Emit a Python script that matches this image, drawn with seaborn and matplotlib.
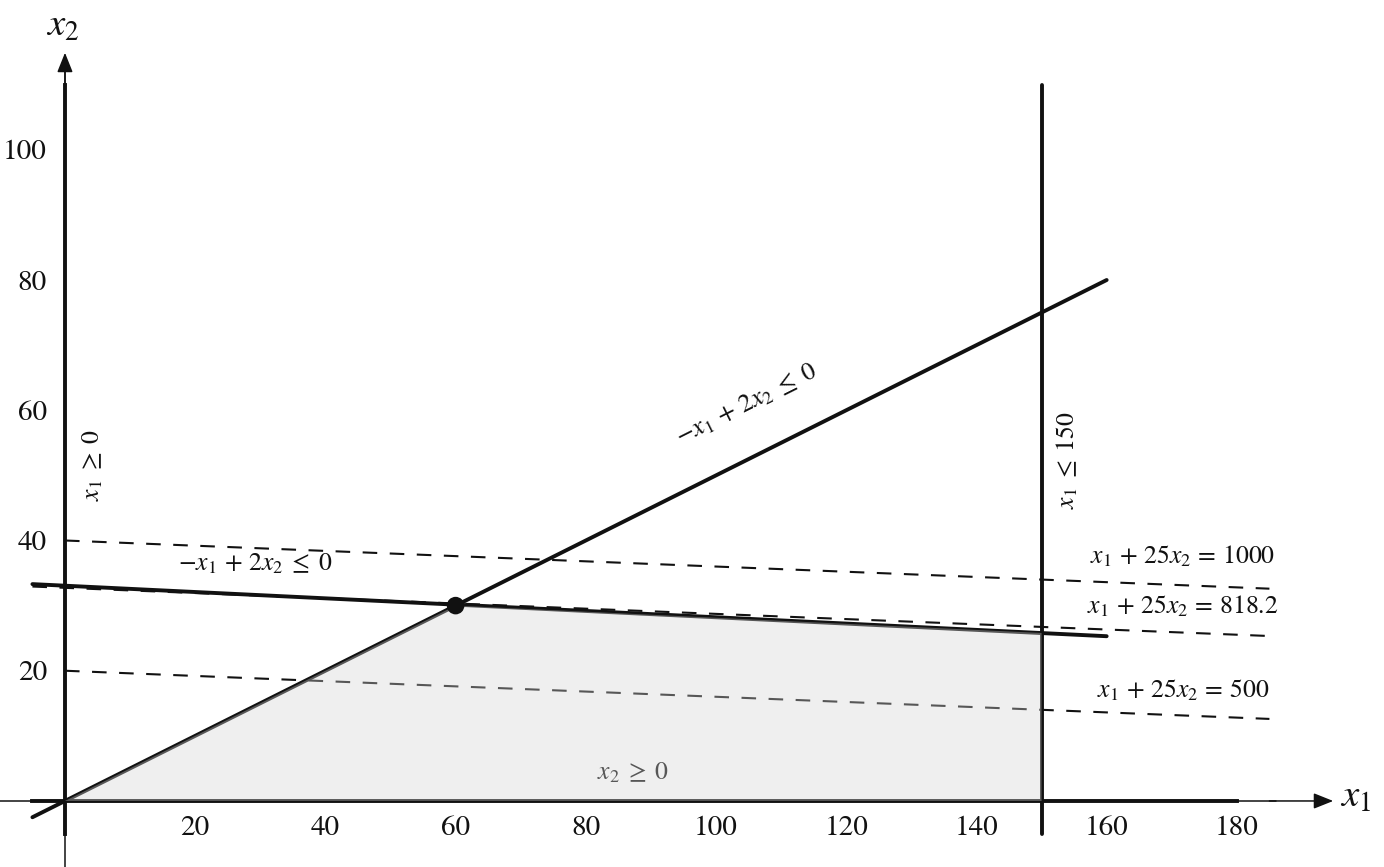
import numpy as np
import pandas as pd
import seaborn as sns
import matplotlib.pyplot as plt
from matplotlib.patches import Polygon

# ---- data ----
x_ticks = [20, 40, 60, 80, 100, 120, 140, 160, 180]
y_ticks = [20, 40, 60, 80, 100]

ratio_x1 = [-5, 160]          # -x1 + 2x2 = 0
ratio_x2 = [-2.5, 80]
cap_x1 = [150, 150]           # x1 = 150
cap_x2 = [-5, 110]
bind_x1 = [-5, 160]           # binding constraint line
bind_x2 = [33.3, 25.3]

obj1000_x1 = [0, 185]
obj1000_x2 = [40, 32.6]
obj818_x1 = [-5, 185]
obj818_x2 = [32.93, 25.33]
obj500_x1 = [0, 185]
obj500_x2 = [20, 12.6]

feas_x1 = [0, 60, 150, 150]
feas_x2 = [0, 30, 25.8, 0]
opt_x1 = [60]
opt_x2 = [30]

sns.set_theme(style="white")
plt.rcParams['font.family'] = ['STIXGeneral', 'Liberation Serif', 'DejaVu Serif']
plt.rcParams['mathtext.fontset'] = 'stix'

fig = plt.figure(figsize=(13.84, 8.67), dpi=100)
ax = fig.add_axes([0, 0, 1, 1])
ax.set_xlim(-9.98, 202.6)
ax.set_ylim(-10.14, 123.0)
ax.set_facecolor('white')

ink = '#111111'
dash = (0, (7, 6))

# axes (thick spines + thin extensions with arrows)
for s in ['top', 'right']:
    ax.spines[s].set_visible(False)
ax.spines['left'].set_position(('data', 0))
ax.spines['bottom'].set_position(('data', 0))
ax.spines['left'].set_bounds(-5, 110)
ax.spines['bottom'].set_bounds(-5, 180)
for s in ['left', 'bottom']:
    ax.spines[s].set_linewidth(2.8)
    ax.spines[s].set_color(ink)
ax.set_xticks(x_ticks)
ax.set_yticks(y_ticks)
ax.tick_params(axis='both', direction='inout', length=8, width=1.4, colors=ink,
               labelsize=21, labelcolor=ink)
ax.tick_params(axis='x', pad=7)
ax.tick_params(axis='y', pad=9)

ax.plot([-10, 186], [0, 0], color=ink, lw=1.1, zorder=2)
ax.plot([0, 0], [-10.2, 113], color=ink, lw=1.1, zorder=2)
arrow = dict(arrowstyle='-|>,head_length=0.5,head_width=0.2', mutation_scale=24,
             color=ink, lw=1.1, shrinkA=0, shrinkB=0)
ax.annotate('', xy=(194.8, 0), xytext=(185, 0), arrowprops=arrow)
ax.annotate('', xy=(0, 114.9), xytext=(0, 108), arrowprops=arrow)
ax.text(198.2, 0.6, r'$x_1$', fontsize=28, ha='center', va='center', color=ink)
ax.text(-0.3, 118.9, r'$x_2$', fontsize=28, ha='center', va='center', color=ink)

# lines
sns.lineplot(x=ratio_x1, y=ratio_x2, ax=ax, color=ink, lw=2.8, sort=False, estimator=None)
sns.lineplot(x=cap_x1, y=cap_x2, ax=ax, color=ink, lw=2.8, sort=False, estimator=None)
sns.lineplot(x=bind_x1, y=bind_x2, ax=ax, color=ink, lw=2.8, sort=False, estimator=None)
for xs, ys in [(obj1000_x1, obj1000_x2), (obj818_x1, obj818_x2), (obj500_x1, obj500_x2)]:
    sns.lineplot(x=xs, y=ys, ax=ax, color=ink, lw=1.5, linestyle=dash,
                 sort=False, estimator=None)

# feasible region (semi-transparent, on top of lines)
poly = Polygon(np.column_stack([feas_x1, feas_x2]), closed=True,
               facecolor=(0.83, 0.83, 0.83), alpha=0.36, edgecolor='none', zorder=3)
ax.add_patch(poly)

sns.scatterplot(x=opt_x1, y=opt_x2, ax=ax, s=160, color=ink, edgecolor='none', zorder=5)

# labels
fs = 18.5
ax.text(4.3, 51.6, r'$x_1 \;\geq\; 0$', rotation=90, fontsize=fs, ha='center', va='center', color=ink)
ax.text(154, 52.4, r'$x_1 \;\leq\; 150$', rotation=90, fontsize=fs, ha='center', va='center', color=ink)
ax.text(104.8, 60.8, r'$-x_1 \,+\, 2x_2 \;\leq\; 0$', rotation=26.57, fontsize=fs,
        ha='center', va='center', color=ink, rotation_mode='anchor')
ax.text(29.2, 36.3, r'$-x_1 \,+\, 2x_2 \;\leq\; 0$', fontsize=fs, ha='center', va='center', color=ink)
ax.text(87.3, 4.3, r'$x_2 \;\geq\; 0$', fontsize=fs, ha='center', va='center', color=ink, zorder=2)
ax.text(171.7, 37.5, r'$x_1 \,+\, 25x_2 \,=\, 1000$', fontsize=fs, ha='center', va='center', color=ink)
ax.text(171.7, 29.8, r'$x_1 \,+\, 25x_2 \,=\, 818.2$', fontsize=fs, ha='center', va='center', color=ink)
ax.text(171.7, 17.0, r'$x_1 \,+\, 25x_2 \,=\, 500$', fontsize=fs, ha='center', va='center', color=ink)

fig.savefig('out.png', dpi=100)
